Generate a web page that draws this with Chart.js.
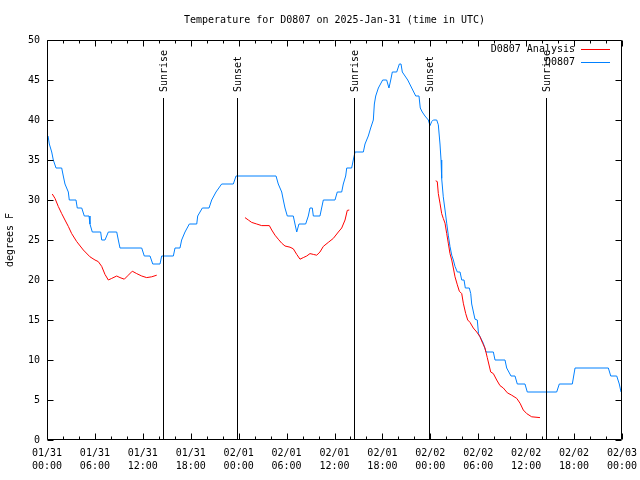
<!DOCTYPE html>
<html>
<head>
<meta charset="utf-8">
<script src="https://cdn.jsdelivr.net/npm/chart.js@4/dist/chart.umd.min.js"></script>
<style>
html, body { margin: 0; background: #fff; }
canvas { display: block; }
</style>
</head>
<body>
<canvas id="chart" width="640" height="480"></canvas>
<script>
// times are hours since 2025-01-31 00:00 UTC
var xTickLabels = [
    ['01/31', '00:00'], ['01/31', '06:00'], ['01/31', '12:00'], ['01/31', '18:00'],
    ['02/01', '00:00'], ['02/01', '06:00'], ['02/01', '12:00'], ['02/01', '18:00'],
    ['02/02', '00:00'], ['02/02', '06:00'], ['02/02', '12:00'], ['02/02', '18:00'],
    ['02/03', '00:00']
];

// D0807 observations
var obsHours = [
    0.13, 0.29, 0.59, 0.79, 1.13, 1.84, 2.04, 2.25, 2.67, 2.79, 3.63, 3.79, 4.35, 4.67, 5.26, 5.38,
    5.67, 6.72, 6.85, 7.26, 7.68, 8.73, 8.93, 9.14, 11.86, 12.18, 12.9, 13.24, 14.15, 14.36, 15.82, 16.03,
    16.65, 16.86, 17.28, 17.82, 18.75, 18.87, 19.45, 20.29, 20.62, 21.16, 21.87, 23.33, 23.67, 28.68, 28.96, 29.39,
    29.59, 29.8, 30.09, 30.84, 31.05, 31.27, 31.55, 32.39, 32.72, 32.93, 33.22, 33.35, 34.18, 34.6,
    36.06, 36.35, 36.9, 37.1, 37.4, 37.53, 38.15, 38.35, 38.57, 39.61, 39.82, 40.23, 40.53, 40.86, 40.99, 41.16,
    41.49, 42.03, 42.53, 42.82, 43.04, 43.24, 43.79, 44.12, 44.33, 44.49, 45.17, 45.67, 46.17, 46.58, 46.74, 46.99,
    47.33, 47.75, 47.96, 48.17, 48.37, 48.8, 49.0, 49.21, 49.34, 49.42, 49.62, 49.84, 50.05, 50.25, 50.46, 50.68,
    50.88, 51.09, 51.38, 51.72, 51.93, 52.22, 52.38, 52.88, 53.06, 53.18, 53.59, 53.88, 54.03, 54.43, 54.63, 54.97,
    55.89, 56.1, 57.35, 57.56, 58.1, 58.6, 58.89, 59.85, 60.14, 63.82, 64.15, 65.78, 66.12, 70.29, 70.59, 71.34,
    71.66, 71.88
];
var obsTemps = [
    38, 37, 36, 35, 34, 34, 33, 32, 31, 30, 30, 29, 29, 28, 28, 27,
    26, 26, 25, 25, 26, 26, 25, 24, 24, 23, 23, 22, 22, 23, 23, 24,
    24, 25, 26, 27, 27, 28, 29, 29, 30, 31, 32, 32, 33, 33, 32, 31,
    30, 29, 28, 28, 27, 26, 27, 27, 28, 29, 29, 28, 28, 30,
    30, 31, 31, 32, 33, 34, 34, 35, 36, 36, 37, 38, 39, 40, 42, 43,
    44, 45, 45, 44, 45, 46, 46, 47, 47, 46, 45, 44, 43, 43, 41.5, 41,
    40.5, 40, 39.3, 39.8, 40, 40, 39.4, 37, 35, 32.7, 30.4, 28.75, 27.1, 25.6, 24.2, 23.1,
    22.5, 21.7, 21, 21, 20, 20, 19, 19, 18.3, 17, 15.1, 15, 13.3, 12.5, 12.1, 11,
    11, 10, 10, 9, 8, 8, 7, 7, 6, 6, 7, 7, 9, 9, 8, 8,
    7, 6
];

// D0807 Analysis, three runs separated by gaps (null)
var anaHours = [
    0.66, 1.0, 1.41, 1.84, 2.25, 2.67, 3.09, 3.72, 4.55, 5.38, 6.01, 6.42, 6.85, 7.26, 7.68, 8.1,
    8.73, 9.14, 9.68, 10.18, 10.68, 11.23, 11.86, 12.48, 13.11, 13.74,
    19,
    24.79, 25.21, 25.63, 26.26, 26.88, 27.84, 28.14, 28.55, 28.96, 29.39, 29.8, 30.43, 30.84, 31.27, 31.68, 32.09,
    32.52, 32.93, 33.35, 33.77, 34.18, 34.6, 35.22, 35.85, 36.48, 36.9, 37.32, 37.6, 37.85,
    43,
    48.67, 48.87, 49.0, 49.21, 49.42, 49.62, 49.84, 50.05, 50.25, 50.46, 50.68, 50.88, 51.09, 51.38, 51.63, 51.93,
    52.13, 52.43, 52.68, 52.97, 53.38, 53.81, 54.22, 54.55, 54.84, 55.13, 55.56, 55.89, 56.31, 56.72, 57.14, 57.64,
    58.19, 58.82, 59.23, 59.64, 60.07, 60.69, 61.73
];
var anaTemps = [
    30.75, 30.2, 29.2, 28.3, 27.5, 26.7, 25.8, 24.8, 23.75, 22.9, 22.5, 22.3, 21.7, 20.7, 20, 20.2,
    20.5, 20.3, 20.1, 20.6, 21.1, 20.8, 20.5, 20.3, 20.4, 20.6,
    null,
    27.8, 27.5, 27.2, 27, 26.8, 26.8, 26.25, 25.6, 25.1, 24.6, 24.25, 24.1, 23.9, 23.2, 22.6, 22.8,
    23, 23.3, 23.2, 23.1, 23.5, 24.2, 24.7, 25.2, 26, 26.5, 27.5, 28.7, 28.75,
    null,
    32.4, 32.3, 30.8, 29.6, 28.3, 27.7, 27.1, 25.8, 24.6, 23.3, 22.5, 21.5, 20.4, 19.4, 18.6, 18.3,
    17.1, 15.8, 15, 14.7, 14, 13.5, 12.9, 12.1, 11.5, 10.3, 8.5, 8.3, 7.5, 6.8, 6.5, 5.9,
    5.6, 5.2, 4.6, 3.75, 3.3, 2.9, 2.8
];

var sunHours = [14.5, 23.8, 38.45, 47.83, 62.48];
var sunLabels = ['Sunrise', 'Sunset', 'Sunrise', 'Sunset', 'Sunrise'];
var sunLineTop = 42.7;

var RED = '#ff0000';
var BLUE = '#0080ff';
var FONT = '10px "DejaVu Sans Mono", "Liberation Mono", monospace';

function toPoints(hours, temps) {
    return hours.map(function(h, i) { return { x: h, y: temps[i] }; });
}

function crisp(v) { return Math.round(v) + 0.5; }

// gnuplot look: frame, inward ticks, sun markers, title and key
var gnuFrame = {
    id: 'gnuFrame',
    afterDraw: function(chart) {
        var ctx = chart.ctx;
        var a = chart.chartArea;
        var xs = chart.scales.x, ys = chart.scales.y;
        var L = crisp(a.left), R = crisp(a.right - 1), T = crisp(a.top), B = crisp(a.bottom - 1);
        ctx.save();
        ctx.strokeStyle = '#000';
        ctx.lineWidth = 1;
        ctx.beginPath();
        ctx.rect(L, T, R - L, B - T);
        for (var h = 0; h <= 72; h += 2) {
            var len = h % 6 === 0 ? 6 : 3;
            var px = crisp(xs.getPixelForValue(h));
            ctx.moveTo(px, B); ctx.lineTo(px, B - len);
            ctx.moveTo(px, T); ctx.lineTo(px, T + len);
        }
        for (var v = 0; v <= 50; v += 5) {
            var py = crisp(ys.getPixelForValue(v));
            ctx.moveTo(L, py); ctx.lineTo(L + 6, py);
            ctx.moveTo(R, py); ctx.lineTo(R - 6, py);
        }
        ctx.stroke();

        // sunrise / sunset markers
        ctx.font = FONT;
        ctx.fillStyle = '#000';
        var topPx = ys.getPixelForValue(sunLineTop);
        sunHours.forEach(function(sh, i) {
            var sx = crisp(xs.getPixelForValue(sh));
            ctx.beginPath();
            ctx.moveTo(sx, Math.round(topPx));
            ctx.lineTo(sx, B);
            ctx.stroke();
            ctx.save();
            ctx.translate(sx + 0.5, Math.round(topPx) - 6);
            ctx.rotate(-Math.PI / 2);
            ctx.textAlign = 'left';
            ctx.textBaseline = 'middle';
            ctx.fillText(sunLabels[i], 0, 0);
            ctx.restore();
        });

        // title
        ctx.textAlign = 'center';
        ctx.textBaseline = 'middle';
        ctx.fillText('Temperature for D0807 on 2025-Jan-31 (time in UTC)', (a.left + a.right) / 2, 20);

        // y axis title
        ctx.save();
        ctx.translate(10, (a.top + a.bottom) / 2);
        ctx.rotate(-Math.PI / 2);
        ctx.fillText('degrees F', 0, 0);
        ctx.restore();

        // key
        var keys = [['D0807 Analysis', RED], ['D0807', BLUE]];
        keys.forEach(function(k, i) {
            var ky = a.top + 9 + i * 13;
            ctx.fillStyle = '#000';
            ctx.textAlign = 'right';
            ctx.fillText(k[0], a.right - 47, ky);
            ctx.strokeStyle = k[1];
            ctx.beginPath();
            ctx.moveTo(a.right - 41, crisp(ky));
            ctx.lineTo(a.right - 12, crisp(ky));
            ctx.stroke();
        });
        ctx.restore();
    }
};

Chart.defaults.font.family = '"DejaVu Sans Mono", "Liberation Mono", monospace';
Chart.defaults.font.size = 10;
Chart.defaults.color = '#000';

new Chart(document.getElementById('chart').getContext('2d'), {
    type: 'line',
    data: {
        datasets: [{
            label: 'D0807 Analysis',
            data: toPoints(anaHours, anaTemps),
            borderColor: RED,
            borderWidth: 1,
            pointRadius: 0,
            tension: 0,
            spanGaps: false
        }, {
            label: 'D0807',
            data: toPoints(obsHours, obsTemps),
            borderColor: BLUE,
            borderWidth: 1,
            pointRadius: 0,
            tension: 0
        }]
    },
    options: {
        responsive: false,
        animation: false,
        layout: { padding: { top: 40, right: 18, left: 0, bottom: 0 } },
        plugins: {
            legend: { display: false },
            title: { display: false },
            tooltip: { enabled: false }
        },
        scales: {
            x: {
                type: 'linear',
                min: 0,
                max: 72,
                afterFit: function(scale) {
                    scale.height = 40;
                    scale.paddingLeft = 0;
                    scale.paddingRight = 0;
                },
                grid: { display: false, drawTicks: false },
                border: { display: false },
                ticks: {
                    stepSize: 6,
                    autoSkip: false,
                    maxRotation: 0,
                    padding: 7,
                    font: { lineHeight: 1.3 },
                    callback: function(value) { return xTickLabels[Math.round(value / 6)]; }
                }
            },
            y: {
                min: 0,
                max: 50,
                afterFit: function(scale) {
                    scale.width = 47;
                    scale.paddingTop = 0;
                    scale.paddingBottom = 0;
                },
                grid: { display: false, drawTicks: false },
                border: { display: false },
                ticks: { stepSize: 5, padding: 7 }
            }
        }
    },
    plugins: [gnuFrame]
});
</script>
</body>
</html>
